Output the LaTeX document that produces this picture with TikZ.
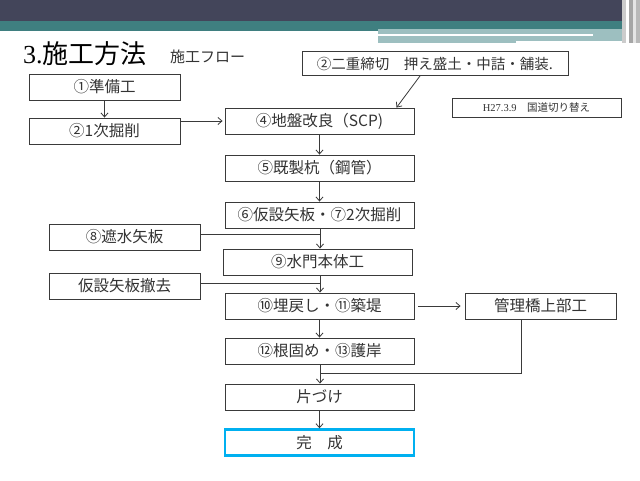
\documentclass[tikz,border=0pt]{standalone}
\usepackage{fontspec}
\setmainfont{Liberation Serif}
\newfontfamily\cjk{Noto Sans CJK JP}
\usetikzlibrary{arrows.meta}
\definecolor{hdrdark}{HTML}{43455A}
\definecolor{hdrteal}{HTML}{3F7F80}
\definecolor{hdrlight}{HTML}{9DBFC0}
\definecolor{boxline}{HTML}{3A3A3A}
\definecolor{txt}{HTML}{333333}
\definecolor{donec}{HTML}{00B0F0}
\tikzset{
  box/.style={draw=boxline, line width=0.9pt, fill=white, inner sep=0pt,
    minimum height=26pt, font=\cjk\fontsize{15.5}{17}\selectfont, text=txt},
  conn/.style={draw=boxline, line width=0.8pt},
  arr/.style={conn, -{Straight Barb[length=4pt,width=7pt]}},
}
\begin{document}
\begin{tikzpicture}[x=1pt,y=-1pt]
\useasboundingbox (0,0) rectangle (640,480);
\fill[white] (0,0) rectangle (640,480);
% header
\fill[hdrdark] (0,0) rectangle (640,21);
\fill[hdrteal] (0,21) rectangle (640,31);
\fill[hdrlight] (378,29) rectangle (627,43);
\fill[white] (378,34) rectangle (593,36);
\fill[white] (516,41) rectangle (627,43);
\fill[gray!40] (622,0) rectangle (626,43);
\fill[white] (626,0) rectangle (629,43);
\fill[gray!70] (629,0) rectangle (633,43);
\fill[gray!20] (633,0) rectangle (636,43);
\fill[gray!55] (636,0) rectangle (640,43);
% title
\node[anchor=base west, inner sep=0pt, text=black] (title) at (23,63)
  {\fontsize{26}{28}\selectfont 3.\cjk 施工方法};
\node[anchor=base west, inner sep=0pt, text=txt] (sub) at (170,62)
  {\cjk\fontsize{15}{17}\selectfont 施工フロー};
% boxes
\node[box, minimum width=266pt, minimum height=24pt, font=\cjk\fontsize{14.5}{16}\selectfont] (n3) at (435,63.5) {②二重締切　押え盛土・中詰・舗装.};
\node[box, minimum width=151pt] (n1) at (104.5,87) {①準備工};
\node[box, minimum width=151pt] (n2) at (104.5,131) {②1次掘削};
\node[box, minimum width=189pt] (n4) at (319.5,121) {④地盤改良（SCP)};
\node[box, minimum width=169pt, minimum height=19pt, font=\cjk\fontsize{10.5}{12}\selectfont] (note) at (536.5,107.5) {{\fontspec{Liberation Serif}H27.3.9}\quad 国道切り替え};
\node[box, minimum width=189pt] (n5) at (319.5,168) {⑤既製杭（鋼管）};
\node[box, minimum width=189pt] (n6) at (319.5,215) {⑥仮設矢板・⑦2次掘削};
\node[box, minimum width=151pt] (n8) at (124.5,237) {⑧遮水矢板};
\node[box, minimum width=189pt] (n9) at (317.5,262) {⑨水門本体工};
\node[box, minimum width=151pt] (nk) at (124.5,286) {仮設矢板撤去};
\node[box, minimum width=189pt] (n10) at (319.5,306) {⑩埋戻し・⑪築堤};
\node[box, minimum width=151pt] (nb) at (540.5,306) {管理橋上部工};
\node[box, minimum width=189pt] (n12) at (319.5,351) {⑫根固め・⑬護岸};
\node[box, minimum width=189pt] (nc) at (319.5,397) {片づけ};
\node[box, minimum width=189pt, draw=donec, line width=2.4pt] (nf) at (319.5,442.5) {完　成};
% connectors
\coordinate (j8) at (320,234);
\coordinate (jk) at (320,283);
\coordinate (jb) at (320,373);
\draw[arr] (n1) -- (n2);
\draw[arr] (n2.east |- n4.west) -- ([xshift=-2pt]n4.west);
\draw[arr] ([xshift=-15pt]n3.south) -- ([xshift=77pt]n4.north);
\draw[arr] (n4) -- (n5);
\draw[arr] (n5) -- (n6);
\draw[arr] (n6.south -| j8) -- (n9.north -| j8);
\draw[conn] (n8.east |- j8) -- (j8);
\draw[arr] (n9.south -| jk) -- (n10.north -| jk);
\draw[conn] (nk.east |- jk) -- (jk);
\draw[arr, shorten <=4pt, shorten >=4pt] (n10.east) -- (nb.west);
\draw[arr] (n10) -- (n12);
\draw[arr] (n12.south -| jb) -- (nc.north -| jb);
\draw[conn] ([xshift=-19.5pt]nb.south) |- (jb);
\draw[arr] (nc) -- (nf);
\end{tikzpicture}
\end{document}
